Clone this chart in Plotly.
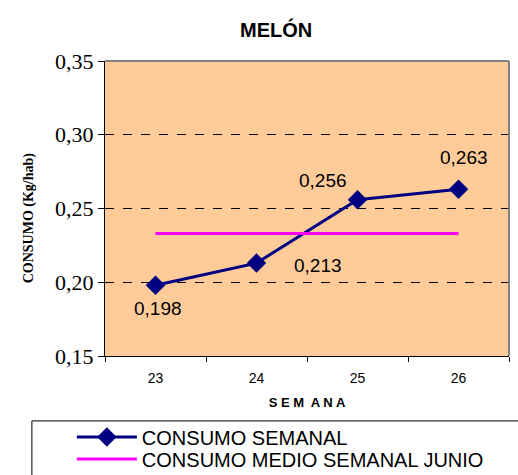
import plotly.graph_objects as go

# data
semanas = ["23", "24", "25", "26"]
consumo_semanal = [0.198, 0.213, 0.256, 0.263]
consumo_medio_junio = [0.233, 0.233, 0.233, 0.233]
etiquetas = ["0,198", "0,213", "0,256", "0,263"]
y_ticks = [0.15, 0.20, 0.25, 0.30, 0.35]

# label offsets in px (style only)
label_shift = [(2, -23), (61, -2), (-35, 19), (5, 32)]

fig = go.Figure()
fig.add_trace(go.Scatter(
    x=semanas, y=consumo_semanal, name="CONSUMO SEMANAL",
    mode="lines+markers",
    line=dict(color="#000080", width=3),
    marker=dict(symbol="diamond", size=15, color="#000080"),
    legend="legend",
))
fig.add_trace(go.Scatter(
    x=semanas, y=consumo_medio_junio, name="CONSUMO MEDIO SEMANAL JUNIO",
    mode="lines",
    line=dict(color="#FF00FF", width=3),
    legend="legend2",
))

# on a category axis annotations take the category index
for i, (v, t, (dx, dy)) in enumerate(zip(consumo_semanal, etiquetas, label_shift)):
    fig.add_annotation(x=i, y=v, text=t, showarrow=False, xshift=dx, yshift=dy,
                       font=dict(family="Arial, Liberation Sans", size=19, color="black"))

fig.add_annotation(xref="paper", yref="paper", x=-0.213, y=0.47, text="<b>CONSUMO (Kg/hab)</b>",
                   textangle=-90, showarrow=False,
                   font=dict(family="Liberation Serif, Times New Roman", size=14, color="black"))

# plot border: top/right grey
fig.add_shape(type="line", xref="paper", yref="paper", x0=0, x1=1, y0=1, y1=1,
              line=dict(color="#808080", width=2))
fig.add_shape(type="line", xref="paper", yref="paper", x0=1, x1=1, y0=0, y1=1,
              line=dict(color="#808080", width=2))
# legend box running off the page
fig.add_shape(type="rect", xref="paper", yref="paper", x0=-0.181, x1=1.1, y0=-0.220, y1=-0.45,
              line=dict(color="black", width=1), fillcolor="rgba(0,0,0,0)")

legend_style = dict(x=-0.082, xanchor="left", yanchor="middle",
                    bgcolor="rgba(0,0,0,0)", itemwidth=60,
                    font=dict(family="Arial, Liberation Sans", size=20, color="black"))

fig.update_layout(
    width=518, height=475,
    margin=dict(l=105, r=9, t=61, b=119, autoexpand=False),
    paper_bgcolor="white", plot_bgcolor="#FFCC99",
    separators=",.",
    title=dict(text="<b>MELÓN</b>", x=0.533, xanchor="center", y=0.937, yanchor="middle",
               font=dict(family="Arial, Liberation Sans", size=20, color="black")),
    showlegend=True,
    legend=dict(y=-0.2746, **legend_style),
    legend2=dict(y=-0.349, **legend_style),
    xaxis=dict(
        type="category", range=[-0.5, 3.5],
        showline=True, linecolor="black", linewidth=1,
        ticks="outside", ticklen=5, tickcolor="black", tickson="boundaries",
        ticklabelstandoff=9,
        showgrid=False,
        tickfont=dict(family="Arial, Liberation Sans", size=14, color="black"),
        title=dict(text="<b>S E M  A N A</b>", standoff=13,
                   font=dict(family="Arial, Liberation Sans", size=13, color="black")),
    ),
    # second x axis only adds the tick marks under each week
    xaxis2=dict(
        overlaying="x", anchor="y", side="bottom", type="category",
        categoryorder="array", categoryarray=semanas, range=[-0.5, 3.5],
        ticks="outside", ticklen=5, tickcolor="black",
        showticklabels=False, showgrid=False, showline=False, zeroline=False,
    ),
    yaxis=dict(
        range=[0.15, 0.35], tickvals=y_ticks, tickformat=".2f",
        showline=True, linecolor="black", linewidth=1,
        ticks="outside", ticklen=6, tickcolor="black",
        showgrid=True, gridcolor="black", griddash="dash", gridwidth=1,
        zeroline=False,
        tickfont=dict(family="Liberation Serif, Times New Roman", size=22, color="black"),
    ),
)

# drop the browser's default 8px body margin so the figure sits at the page corner
fig.write_html("out.html", config={"displayModeBar": False},
               post_script="document.body.style.margin='0';")
